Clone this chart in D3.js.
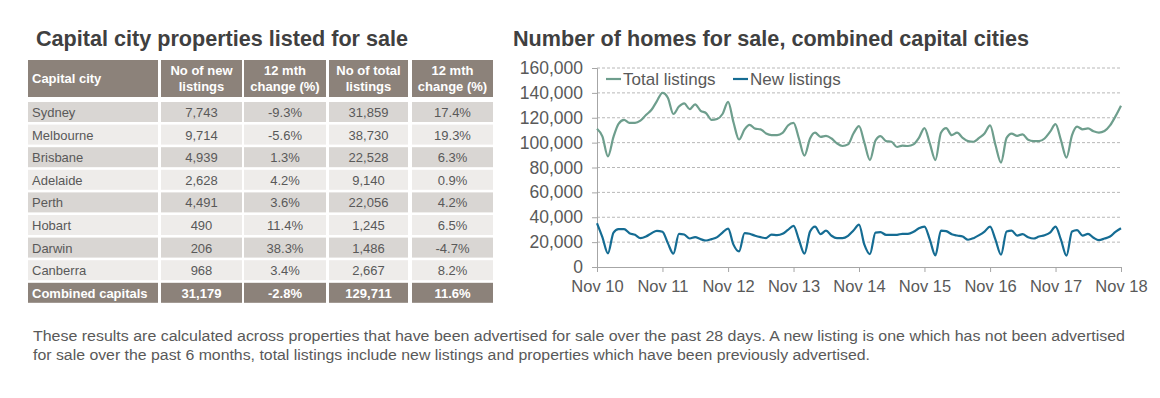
<!DOCTYPE html>
<html>
<head>
<meta charset="UTF-8" />
<title>Capital city listings</title>
<script src="https://cdn.jsdelivr.net/npm/d3@7/dist/d3.min.js"></script>
<style>
  body { margin: 0; background: #fff; }
  svg text { font-family: "Liberation Sans", Arial, sans-serif; }
</style>
</head>
<body>
<svg id="chart" width="1160" height="398"></svg>
<script>
// table data
var cities = ["Sydney", "Melbourne", "Brisbane", "Adelaide", "Perth", "Hobart", "Darwin", "Canberra"];
var newListings = [7743, 9714, 4939, 2628, 4491, 490, 206, 968];
var newChange = [-9.3, -5.6, 1.3, 4.2, 3.6, 11.4, 38.3, 3.4];
var totalListings = [31859, 38730, 22528, 9140, 22056, 1245, 1486, 2667];
var totalChange = [17.4, 19.3, 6.3, 0.9, 4.2, 6.5, -4.7, 8.2];
var combinedRow = ["Combined capitals", 31179, -2.8, 129711, 11.6];
var headers = [["Capital city"], ["No of new", "listings"], ["12 mth", "change (%)"], ["No of total", "listings"], ["12 mth", "change (%)"]];

// chart data, monthly from Nov 2010, in thousands
var totalSeries = [111.2,105,89,104.6,115.1,118.3,115.9,115.9,117.7,122.2,126.4,133.4,
  140,136.1,123,129,131.6,126.9,130.8,125.6,123.8,118.3,119,123,
  132.7,116.4,102.5,110.7,114.3,111.2,110.7,107.3,106,106,107.8,113.8,
  115.9,103.3,89.5,103.3,108,104.6,105.4,103.3,99.4,97.3,98.6,107.3,
  113.3,100,86,101.7,105.2,101.2,100.7,96.5,97.6,97.3,98.6,103.8,
  111.7,99.4,86,108,111.7,106,108,103.8,101.2,100.7,103.8,107.3,
  113.8,98.1,84,103.8,107.3,105.4,106.7,102.3,101.2,101.2,103.3,108.6,
  114.8,102,88,106,112.8,110.7,111.4,109.1,108,109.3,113.8,121.1,129.7];
var newSeries = [35.2,24,11,27.7,30.4,30.4,27.2,25.9,23.2,24.5,27.2,29.1,
  28.3,19.2,10.7,26.7,26.1,22.9,24,22.4,21.3,22.4,24,27.7,
  30.9,18,12.5,27.2,26.7,25.1,24,23.2,26.1,25.6,26.7,29.9,
  33.1,21.9,10.7,28.5,32.5,26.4,29.3,25.1,23.2,23.2,25.1,29.3,
  34,18,10.4,27.7,28,25.9,25.9,25.9,26.7,26.7,28.3,31.2,
  32.5,22,9.3,29.3,28.8,26.4,25.3,24.5,21.9,23.2,25.6,28.5,
  32.5,22,9.9,28.5,29.3,25.3,26.4,24,22.9,24.5,25.6,27.7,
  32.5,22,9.1,28.5,29.6,25.3,26.7,23.5,21.6,22.9,24.5,28.3,31.2];
var seriesNames = ["Total listings", "New listings"];
var yTicks = [0, 20000, 40000, 60000, 80000, 100000, 120000, 140000, 160000];
var xTickLabels = ["Nov 10", "Nov 11", "Nov 12", "Nov 13", "Nov 14", "Nov 15", "Nov 16", "Nov 17", "Nov 18"];

var footnote = [
  "These results are calculated across properties that have been advertised for sale over the past 28 days.  A new listing is one which has not been advertised",
  "for sale over the past 6 months, total listings include new listings and properties which have been previously advertised."
];

var svg = d3.select("#chart");
var textCol = "#595959";
var headCol = "#8c827a";

// titles
svg.append("text").attr("x", 36).attr("y", 46).attr("font-size", 21.6).attr("font-weight", "bold")
  .attr("fill", "#404040").text("Capital city properties listed for sale");
svg.append("text").attr("x", 513).attr("y", 46).attr("font-size", 21.6).attr("font-weight", "bold")
  .attr("fill", "#404040").text("Number of homes for sale, combined capital cities");

// ---- table ----
var colX = [28, 161, 244, 329, 412];
var colW = [130, 81, 82, 79, 81];
var fmt = d3.format(",");
var pct = function (v) { return v.toFixed(1) + "%"; };

var rows = cities.map(function (c, i) {
  return [c, fmt(newListings[i]), pct(newChange[i]), fmt(totalListings[i]), pct(totalChange[i])];
});
rows.push([combinedRow[0], fmt(combinedRow[1]), pct(combinedRow[2]), fmt(combinedRow[3]), pct(combinedRow[4])]);

var table = svg.append("g");
var head = table.selectAll("g.head").data(headers).enter().append("g");
head.append("rect")
  .attr("x", function (d, j) { return colX[j]; }).attr("y", 60)
  .attr("width", function (d, j) { return colW[j]; }).attr("height", 37)
  .attr("fill", headCol);
head.each(function (d, j) {
  var g = d3.select(this);
  d.forEach(function (line, k) {
    g.append("text")
      .attr("x", j === 0 ? colX[j] + 4 : colX[j] + colW[j] / 2)
      .attr("y", d.length === 1 ? 83 : 75 + k * 16)
      .attr("text-anchor", j === 0 ? "start" : "middle")
      .attr("font-size", 13).attr("font-weight", "bold").attr("fill", "#fff")
      .text(line);
  });
});

var rowY = function (i) { return 102 + i * 22.6; };
var rowG = table.selectAll("g.row").data(rows).enter().append("g");
rowG.each(function (r, i) {
  var g = d3.select(this);
  var last = i === rows.length - 1;
  var fill = last ? headCol : (i % 2 === 0 ? "#d9d6d3" : "#eeecea");
  r.forEach(function (cell, j) {
    g.append("rect").attr("x", colX[j]).attr("y", rowY(i))
      .attr("width", colW[j]).attr("height", 20).attr("fill", fill);
    g.append("text")
      .attr("x", j === 0 ? colX[j] + 4 : colX[j] + colW[j] / 2)
      .attr("y", rowY(i) + 15)
      .attr("text-anchor", j === 0 ? "start" : "middle")
      .attr("font-size", 13)
      .attr("font-weight", last ? "bold" : "normal")
      .attr("fill", last ? "#fff" : textCol)
      .text(cell);
  });
});

// ---- line chart ----
var start = new Date(2010, 10, 1);
var dates = totalSeries.map(function (d, i) { return d3.timeMonth.offset(start, i); });

var x = d3.scaleTime().domain([start, new Date(2018, 10, 1)]).range([597, 1121]);
var y = d3.scaleLinear().domain([0, 160000]).range([267, 68]);

// gridlines
svg.append("g").selectAll("line").data(yTicks.slice(1)).enter().append("line")
  .attr("x1", 597).attr("x2", 1121)
  .attr("y1", function (d) { return y(d); }).attr("y2", function (d) { return y(d); })
  .attr("stroke", "#b8b8b8").attr("stroke-width", 1).attr("stroke-dasharray", "3,2");

var yAxis = svg.append("g").attr("transform", "translate(597,0)")
  .call(d3.axisLeft(y).tickValues(yTicks).tickFormat(d3.format(",")).tickSize(5).tickPadding(9));
yAxis.select(".domain").attr("stroke", "#a6a6a6");
yAxis.selectAll(".tick line").attr("stroke", "#a6a6a6");
yAxis.selectAll("text").attr("font-size", 17.5).attr("fill", textCol)
  .attr("font-family", "Liberation Sans, Arial, sans-serif");

var xTicks = xTickLabels.map(function (d, i) { return new Date(2010 + i, 10, 1); });
var xAxis = svg.append("g").attr("transform", "translate(0,267)")
  .call(d3.axisBottom(x).tickValues(xTicks)
    .tickFormat(function (d, i) { return xTickLabels[i]; }).tickSize(5).tickSizeOuter(0).tickPadding(8));
xAxis.select(".domain").attr("stroke", "#a6a6a6");
xAxis.selectAll(".tick line").attr("stroke", "#a6a6a6");
xAxis.selectAll("text").attr("font-size", 16.5).attr("fill", textCol)
  .attr("font-family", "Liberation Sans, Arial, sans-serif");

var colors = ["#6e9e8d", "#156c93"];
var line = d3.line()
  .x(function (d, i) { return x(dates[i]); })
  .y(function (d) { return y(d * 1000); })
  .curve(d3.curveMonotoneX);

svg.append("g").selectAll("path").data([totalSeries, newSeries]).enter().append("path")
  .attr("d", line).attr("fill", "none")
  .attr("stroke", function (d, i) { return colors[i]; })
  .attr("stroke-width", 2.2).attr("stroke-linejoin", "round");

// legend
var legX = [606, 733];
var leg = svg.append("g").selectAll("g").data(seriesNames).enter().append("g")
  .attr("transform", function (d, i) { return "translate(" + legX[i] + ",79)"; });
leg.append("line").attr("x1", 0).attr("x2", 15).attr("y1", 0).attr("y2", 0)
  .attr("stroke", function (d, i) { return colors[i]; }).attr("stroke-width", 2.2);
leg.append("text").attr("x", 17).attr("y", 6).attr("font-size", 17).attr("fill", textCol)
  .text(function (d) { return d; });

// footnote
var footEnd = [1125, 870];
svg.append("g").selectAll("text").data(footnote).enter().append("text")
  .attr("x", 33).attr("y", function (d, i) { return 341 + i * 19; })
  .attr("font-size", 14).attr("fill", textCol)
  .attr("textLength", function (d, i) { return footEnd[i] - 33; })
  .attr("lengthAdjust", "spacingAndGlyphs")
  .text(function (d) { return d; });
</script>
</body>
</html>
